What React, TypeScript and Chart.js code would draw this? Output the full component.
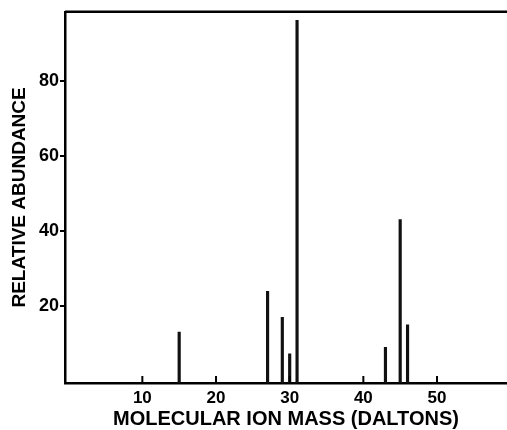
import React, { useEffect, useRef } from "react";
import { Chart, registerables } from "chart.js";

Chart.register(...registerables);

const masses = [15, 27, 29, 30, 31, 43, 45, 46];
const abundances = [13.1, 24, 17, 7.3, 96.3, 9, 43.1, 15];
const xTickValues = [10, 20, 30, 40, 50];
const yTickValues = [20, 40, 60, 80];
const xTitle = "MOLECULAR ION MASS (DALTONS)";
const yTitle = "RELATIVE ABUNDANCE";

const FONT = "'Liberation Sans', Arial, sans-serif";

export default function App() {
  const ref = useRef<HTMLCanvasElement>(null);

  useEffect(() => {
    if (!ref.current) return;
    const framePlugin = {
      id: "frame",
      afterDatasetsDraw(chart: any) {
        const { ctx, chartArea, scales } = chart;
        ctx.save();
        ctx.strokeStyle = "#000";
        ctx.lineWidth = 2.5;
        ctx.beginPath();
        ctx.moveTo(chartArea.left, chartArea.top);
        ctx.lineTo(chartArea.right, chartArea.top);
        ctx.stroke();
        ctx.lineWidth = 2;
        ctx.beginPath();
        for (const v of xTickValues) {
          const px = scales.x.getPixelForValue(v);
          ctx.moveTo(px, chartArea.bottom);
          ctx.lineTo(px, chartArea.bottom - 7);
        }
        ctx.stroke();
        ctx.restore();
      },
    };

    const chart = new Chart(ref.current, {
      type: "bar",
      data: {
        datasets: [
          {
            data: masses.map((m, i) => ({ x: m, y: abundances[i] })),
            backgroundColor: "#111",
            borderWidth: 0,
            barThickness: 2.5,
            base: -0.5,
          } as any,
        ],
      },
      options: {
        animation: false,
        responsive: false,
        maintainAspectRatio: false,
        layout: { padding: { top: 10.7, right: 0, left: 0, bottom: 0 } },
        plugins: { legend: { display: false }, tooltip: { enabled: false } },
        scales: {
          x: {
            type: "linear",
            offset: false,
            min: -0.5,
            max: 59.5,
            afterBuildTicks: (s: any) => {
              s.ticks = xTickValues.map((v) => ({ value: v }));
            },
            afterFit: (s: any) => {
              s.height = 47;
            },
            grid: { display: false, drawTicks: false, tickLength: 0 },
            border: { display: true, color: "#000", width: 2.5 },
            ticks: {
              color: "#000",
              padding: 5,
              maxRotation: 0,
              autoSkip: false,
              font: { family: FONT, size: 17, weight: "bold" },
            },
            title: {
              display: true,
              text: xTitle,
              color: "#000",
              font: { family: FONT, size: 20, weight: "bold", lineHeight: 1 },
              padding: { top: 0, bottom: 1 },
            },
          },
          y: {
            type: "linear",
            min: -0.5,
            max: 98.6,
            afterBuildTicks: (s: any) => {
              s.ticks = yTickValues.map((v) => ({ value: v }));
            },
            afterFit: (s: any) => {
              s.width = 65;
            },
            grid: {
              drawOnChartArea: false,
              drawTicks: true,
              tickLength: 5,
              color: "#000",
              lineWidth: 2,
            },
            border: { display: true, color: "#000", width: 2.5 },
            ticks: {
              color: "#000",
              padding: 1,
              font: { family: FONT, size: 18, weight: "bold" },
            },
            title: {
              display: true,
              text: yTitle,
              color: "#000",
              font: { family: FONT, size: 19, weight: "bold", lineHeight: 1.2 },
              padding: { top: 8.6, bottom: 0 },
            },
          },
        },
      },
      plugins: [framePlugin],
    } as any);

    return () => chart.destroy();
  }, []);

  return (
    <div
      style={{
        position: "fixed",
        left: 0,
        top: 0,
        width: 507,
        height: 430,
        background: "#fff",
      }}
    >
      <canvas ref={ref} width={507} height={430} style={{ display: "block" }} />
    </div>
  );
}
